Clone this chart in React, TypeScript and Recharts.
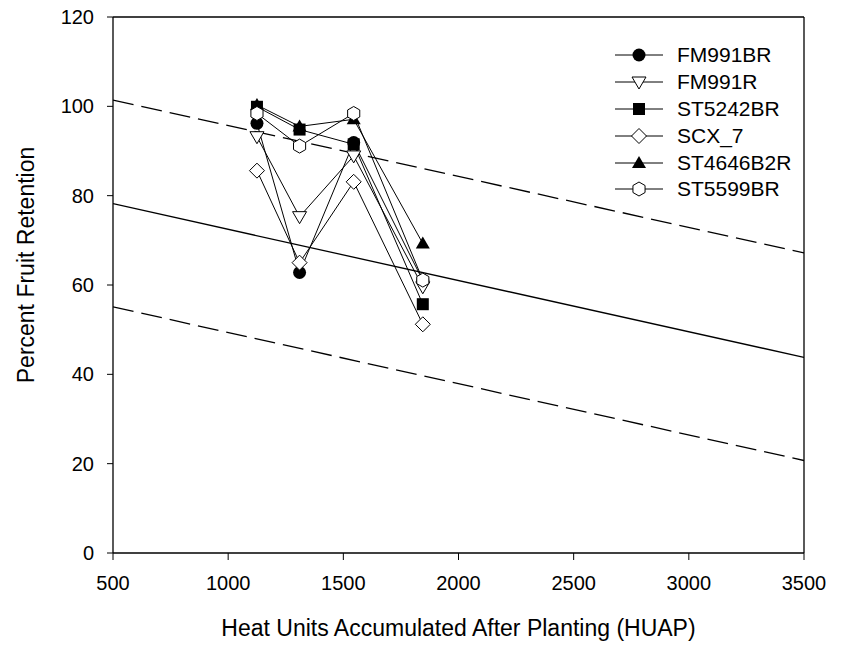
import { LineChart, Line, XAxis, YAxis, ReferenceLine } from "recharts";

const huap = [1125, 1310, 1545, 1845];

const fm991br = [96.2, 62.8, 91.9, 61.0];
const fm991r = [93.2, 75.3, 88.9, 59.6];
const st5242br = [99.9, 94.8, 91.5, 55.7];
const scx7 = [85.6, 65.0, 83.1, 51.2];
const st4646b2r = [100.3, 95.5, 97.1, 69.3];
const st5599br = [98.4, 91.1, 98.4, 61.1];

// regression line with its confidence band, read at the ends of the axis
const fitX = [500, 3500];
const fitMid = [78.2, 43.8];
const fitUpper = [101.4, 67.2];
const fitLower = [55.1, 20.7];

const xTicks = [500, 1000, 1500, 2000, 2500, 3000, 3500];
const yTicks = [0, 20, 40, 60, 80, 100, 120];

const FONT = "Arial, 'Liberation Sans', sans-serif";

type Shape = "circle" | "triDown" | "square" | "diamond" | "triUp" | "hexagon";

const series: { name: string; values: number[]; shape: Shape }[] = [
  { name: "FM991BR", values: fm991br, shape: "circle" },
  { name: "FM991R", values: fm991r, shape: "triDown" },
  { name: "ST5242BR", values: st5242br, shape: "square" },
  { name: "SCX_7", values: scx7, shape: "diamond" },
  { name: "ST4646B2R", values: st4646b2r, shape: "triUp" },
  { name: "ST5599BR", values: st5599br, shape: "hexagon" },
];

const toPoints = (xs: number[], ys: number[]) => xs.map((x, i) => ({ x, y: ys[i] }));

const Marker = ({ shape, cx, cy }: { shape: Shape; cx: number; cy: number }) => {
  const stroke = "#000";
  switch (shape) {
    case "circle":
      return <circle cx={cx} cy={cy} r={6.5} fill="#000" />;
    case "square":
      return <rect x={cx - 6} y={cy - 6} width={12} height={12} fill="#000" />;
    case "triDown":
      return (
        <polygon
          points={`${cx - 7},${cy - 5} ${cx + 7},${cy - 5} ${cx},${cy + 7}`}
          fill="#fff"
          stroke={stroke}
        />
      );
    case "triUp":
      return <polygon points={`${cx},${cy - 7} ${cx + 7},${cy + 5} ${cx - 7},${cy + 5}`} fill="#000" />;
    case "diamond":
      return (
        <polygon
          points={`${cx},${cy - 7.5} ${cx + 7.5},${cy} ${cx},${cy + 7.5} ${cx - 7.5},${cy}`}
          fill="#fff"
          stroke={stroke}
        />
      );
    case "hexagon": {
      const pts = [0, 1, 2, 3, 4, 5]
        .map((k) => {
          const a = (Math.PI / 3) * k - Math.PI / 2;
          return `${cx + 7 * Math.cos(a)},${cy + 7 * Math.sin(a)}`;
        })
        .join(" ");
      return <polygon points={pts} fill="#fff" stroke={stroke} />;
    }
  }
};

// legend sits inside the plot box, top right
const LegendBox = () => (
  <div style={{ position: "absolute", left: 615, top: 42, fontFamily: FONT, fontSize: 21, color: "#000" }}>
    {series.map((s) => (
      <div key={s.name} style={{ display: "flex", alignItems: "center", height: 26.8 }}>
        <svg width={62} height={20} style={{ overflow: "visible" }}>
          <line x1={0} y1={10} x2={48} y2={10} stroke="#000" strokeWidth={1} />
          <Marker shape={s.shape} cx={24} cy={10} />
        </svg>
        <span>{s.name}</span>
      </div>
    ))}
  </div>
);

export default function App() {
  return (
    <div style={{ position: "relative", width: 843, height: 649, background: "#fff" }}>
      <style>{`body{margin:0}`}</style>
      <LineChart width={843} height={649} margin={{ top: 17, right: 39, bottom: 0, left: 0 }}>
        <XAxis
          type="number"
          dataKey="x"
          domain={[500, 3500]}
          ticks={xTicks}
          allowDataOverflow
          height={96}
          tickSize={7}
          tickMargin={16}
          axisLine={{ stroke: "#000", strokeWidth: 1.3 }}
          tickLine={{ stroke: "#000" }}
          tick={{ fill: "#000", fontSize: 20, fontFamily: FONT }}
          label={{
            content: ({ viewBox }: any) => (
              <text
                x={viewBox.x + viewBox.width / 2}
                y={viewBox.y + 83}
                textAnchor="middle"
                fontSize={23}
                fontFamily={FONT}
                fill="#000"
              >
                Heat Units Accumulated After Planting (HUAP)
              </text>
            ),
          }}
        />
        <YAxis
          type="number"
          dataKey="y"
          domain={[0, 120]}
          ticks={yTicks}
          allowDataOverflow
          width={113}
          tickSize={6}
          tickMargin={13}
          axisLine={{ stroke: "#000", strokeWidth: 1.3 }}
          tickLine={{ stroke: "#000" }}
          tick={{ fill: "#000", fontSize: 20, fontFamily: FONT }}
          label={{
            content: ({ viewBox }: any) => {
              const cx = 34;
              const cy = viewBox.y + viewBox.height / 2 - 20;
              return (
                <text
                  x={cx}
                  y={cy}
                  transform={`rotate(-90, ${cx}, ${cy})`}
                  textAnchor="middle"
                  fontSize={23}
                  fontFamily={FONT}
                  fill="#000"
                >
                  Percent Fruit Retention
                </text>
              );
            },
          }}
        />
        <ReferenceLine y={120} stroke="#000" strokeWidth={1.3} />
        <ReferenceLine x={3500} stroke="#000" strokeWidth={1.3} />

        <Line data={toPoints(fitX, fitUpper)} dataKey="y" stroke="#000" strokeWidth={1.3} strokeDasharray="21 8" dot={false} legendType="none" isAnimationActive={false} />
        <Line data={toPoints(fitX, fitMid)} dataKey="y" stroke="#000" strokeWidth={1.3} dot={false} legendType="none" isAnimationActive={false} />
        <Line data={toPoints(fitX, fitLower)} dataKey="y" stroke="#000" strokeWidth={1.3} strokeDasharray="21 8" dot={false} legendType="none" isAnimationActive={false} />

        {series.map((s) => (
          <Line
            key={s.name}
            name={s.name}
            data={toPoints(huap, s.values)}
            dataKey="y"
            stroke="#000"
            strokeWidth={1}
            dot={(p: any) => <Marker key={`${s.name}-${p.index}`} shape={s.shape} cx={p.cx} cy={p.cy} />}
            activeDot={false}
            isAnimationActive={false}
          />
        ))}
      </LineChart>
      <LegendBox />
    </div>
  );
}
